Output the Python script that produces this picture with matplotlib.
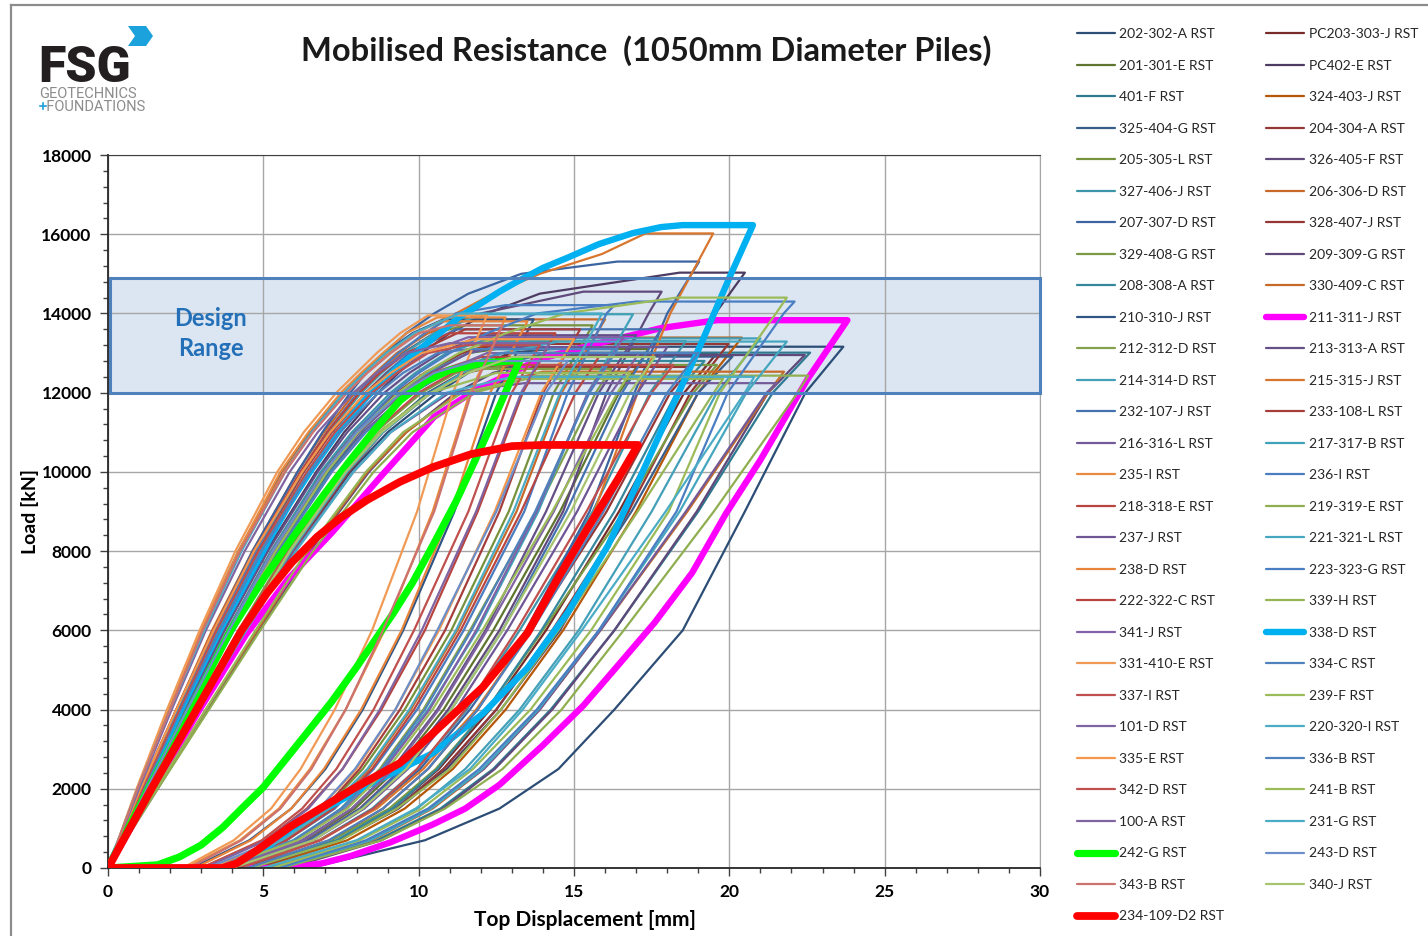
import matplotlib.pyplot as plt
from matplotlib.lines import Line2D
from matplotlib.patches import Rectangle, Polygon
from matplotlib.ticker import MultipleLocator

plt.rcParams['font.family'] = ['Lato', 'DejaVu Sans']

# ---- series names / colours, as listed in the two legend columns ----
LEFT_NAMES = ['202-302-A', '201-301-E', '401-F', '325-404-G', '205-305-L', '327-406-J',
              '207-307-D', '329-408-G', '208-308-A', '210-310-J', '212-312-D', '214-314-D',
              '232-107-J', '216-316-L', '235-I', '218-318-E', '237-J', '238-D', '222-322-C',
              '341-J', '331-410-E', '337-I', '101-D', '335-E', '342-D', '100-A', '242-G',
              '343-B', '234-109-D2']
LEFT_COLORS = ['#2C4D75', '#5F7530', '#2F7A90', '#3A5E8C', '#76923C', '#3D95AB',
               '#3B64A0', '#7A9A45', '#34879C', '#2F5587', '#83A24B', '#43A0B8',
               '#4472B0', '#735A98', '#E88A3F', '#B8443F', '#6E5696', '#E8843A', '#B84541',
               '#7F62A8', '#F09A55', '#C0504D', '#8064A2', '#F4974A', '#C0504D', '#8064A2',
               '#00FF00', '#CC7370', '#FF0000']
RIGHT_NAMES = ['PC203-303-J', 'PC402-E', '324-403-J', '204-304-A', '326-405-F', '206-306-D',
               '328-407-J', '209-309-G', '330-409-C', '211-311-J', '213-313-A', '215-315-J',
               '233-108-L', '217-317-B', '236-I', '219-319-E', '221-321-L', '223-323-G',
               '339-H', '338-D', '334-C', '239-F', '220-320-I', '336-B', '241-B', '231-G',
               '243-D', '340-J']
RIGHT_COLORS = ['#772C2A', '#4D3B62', '#B65708', '#953735', '#604A7B', '#C8692A',
                '#963634', '#5F497A', '#C66A28', '#FF00FF', '#644F86', '#D9762E',
                '#A53E3B', '#3FA2B8', '#4A7CC0', '#8FAE50', '#45A7BF', '#4A7EC2',
                '#95B556', '#00B0F0', '#4F81BD', '#9BBB59', '#4BACC6', '#4F81BD', '#9BBB59',
                '#4BACC6', '#6D8FC9', '#A7C46F']

# ---- ordinary piles: displacement (mm) read at fixed load steps (kN) ----
UP_LOADS = [2000, 4000, 6000, 8000, 10000, 11000, 12000, 12500, 13000, 13500, 14000,
            14500, 15000, 15500]
DOWN_LOADS = [14000, 12000, 9000, 6000, 4000, 2500, 1500, 700, 0]

THIN_NAMES = ['202-302-A', '201-301-E', '401-F', '325-404-G', '205-305-L', '327-406-J',
              '207-307-D', '329-408-G', '208-308-A', '210-310-J', '212-312-D', '214-314-D',
              '232-107-J', '216-316-L', '235-I', '218-318-E', '237-J', '238-D', '222-322-C',
              '341-J', '331-410-E', '337-I', '101-D', '335-E', '342-D', '100-A', '343-B',
              'PC203-303-J', 'PC402-E', '324-403-J', '204-304-A', '326-405-F', '206-306-D',
              '328-407-J', '209-309-G', '330-409-C', '213-313-A', '215-315-J', '233-108-L',
              '217-317-B', '236-I', '219-319-E', '221-321-L', '223-323-G', '339-H', '334-C',
              '239-F', '220-320-I', '336-B', '241-B', '231-G', '243-D', '340-J']
PEAK = [13160, 13100, 13010, 12910, 13700, 13300, 15310, 12700, 12800, 13850, 12600, 13370,
        13600, 12240, 13900, 13500, 13150, 13800, 12900, 13400, 13950, 13200, 13000, 13350,
        12700, 13250, 13700,
        13000, 15030, 13390, 13230, 14550, 13850, 12650, 12950, 12530, 13450, 16020, 13600,
        13980, 14210, 12430, 13290, 14300, 12350, 13100, 14400, 12400, 13000, 12500, 14000,
        12800, 12900]
X_PEAK_START = [15.0, 12.5, 14.2, 13.2, 11.5, 12.0, 16.4, 13.0, 12.8, 10.8, 11.8, 13.8,
                11.2, 13.4, 10.6, 11.0, 12.5, 10.7, 12.0, 11.6, 10.3, 11.5, 12.2, 11.8,
                12.0, 11.0, 11.0,
                13.0, 18.4, 13.0, 12.6, 15.3, 11.5, 12.4, 14.6, 14.0, 12.0, 17.3, 11.5,
                12.0, 12.8, 13.8, 14.5, 17.0, 13.5, 11.6, 18.3, 13.0, 12.6, 12.5, 11.3,
                11.8, 13.0]
X_PEAK_END = [23.67, 17.4, 22.6, 20.1, 15.6, 18.6, 19.03, 19.6, 19.2, 13.7, 16.2, 21.0,
              17.8, 21.52, 12.8, 14.4, 18.0, 13.5, 15.8, 16.6, 12.2, 13.9, 17.1, 15.0,
              18.2, 14.2, 12.7,
              19.6, 20.5, 20.4, 19.97, 17.82, 16.0, 18.8, 22.43, 21.76, 17.0, 19.48, 15.2,
              16.9, 16.3, 22.54, 21.85, 22.1, 19.8, 16.4, 21.85, 20.8, 19.0, 16.8, 15.9,
              14.8, 17.6]
UP_DISP = [
    [1.4, 2.85, 4.35, 5.95, 7.8, 9.0, 10.6, 11.6, 12.9],
    [1.25, 2.55, 3.9, 5.3, 6.95, 8.0, 9.4, 10.3, 11.6],
    [1.4, 2.8, 4.3, 5.85, 7.6, 8.8, 10.3, 11.5],
    [1.25, 2.6, 3.95, 5.4, 7.1, 8.2, 9.7, 10.8],
    [1.1, 2.25, 3.45, 4.75, 6.25, 7.1, 8.15, 8.8, 9.5, 10.5],
    [1.2, 2.5, 3.85, 5.25, 6.85, 7.85, 9.1, 9.9, 10.9],
    [1.1, 2.2, 3.4, 4.65, 6.1, 6.9, 7.8, 8.3, 8.9, 9.6, 10.5, 11.6, 13.3],
    [1.35, 2.75, 4.2, 5.75, 7.5, 8.6, 10.1, 11.2],
    [1.3, 2.6, 4.0, 5.45, 7.15, 8.25, 9.8, 10.9],
    [0.95, 1.95, 3.0, 4.2, 5.6, 6.5, 7.6, 8.2, 8.9, 9.8],
    [1.3, 2.6, 3.95, 5.35, 7.0, 8.05, 9.5, 10.6],
    [1.25, 2.55, 3.9, 5.3, 6.95, 8.0, 9.35, 10.3, 11.6],
    [1.1, 2.3, 3.5, 4.8, 6.3, 7.2, 8.3, 8.95, 9.7],
    [1.45, 2.9, 4.4, 6.0, 7.9, 9.1, 11.0],
    [0.95, 1.95, 3.0, 4.2, 5.55, 6.45, 7.5, 8.15, 8.85, 9.6],
    [1.05, 2.2, 3.4, 4.7, 6.2, 7.05, 8.1, 8.75, 9.6],
    [1.3, 2.6, 3.95, 5.4, 7.05, 8.1, 9.5, 10.4, 11.6],
    [0.95, 2.0, 3.05, 4.25, 5.65, 6.55, 7.65, 8.3, 9.0, 9.9],
    [1.25, 2.55, 3.9, 5.3, 6.95, 8.0, 9.45, 10.45],
    [1.15, 2.35, 3.6, 4.95, 6.5, 7.4, 8.55, 9.3, 10.2],
    [0.92, 1.9, 2.95, 4.1, 5.45, 6.3, 7.35, 8.0, 8.65, 9.4],
    [1.1, 2.3, 3.5, 4.85, 6.4, 7.3, 8.5, 9.3, 10.3],
    [1.3, 2.65, 4.05, 5.5, 7.2, 8.25, 9.7, 10.7],
    [1.05, 2.2, 3.4, 4.7, 6.25, 7.15, 8.3, 9.1, 10.1],
    [1.4, 2.8, 4.25, 5.8, 7.5, 8.55, 10.0, 11.1],
    [1.0, 2.05, 3.15, 4.4, 5.85, 6.75, 7.9, 8.65, 9.6],
    [0.95, 2.0, 3.05, 4.25, 5.7, 6.6, 7.7, 8.35, 9.1, 10.0],
    [1.4, 2.85, 4.35, 5.9, 7.7, 8.8, 10.3, 11.4],
    [1.2, 2.45, 3.75, 5.1, 6.7, 7.6, 8.7, 9.35, 10.1, 11.0, 12.2, 13.9],
    [1.25, 2.55, 3.9, 5.3, 6.95, 7.95, 9.3, 10.2, 11.4],
    [1.2, 2.5, 3.85, 5.25, 6.9, 7.95, 9.3, 10.2, 11.4],
    [1.1, 2.25, 3.45, 4.75, 6.2, 7.05, 8.05, 8.7, 9.5, 10.5, 12.0],
    [1.05, 2.2, 3.35, 4.65, 6.1, 6.95, 7.95, 8.6, 9.3, 10.3],
    [1.45, 2.9, 4.4, 5.95, 7.75, 8.85, 10.4, 11.5],
    [1.6, 3.2, 4.85, 6.5, 8.4, 9.6, 11.2, 12.4],
    [1.55, 3.15, 4.8, 6.45, 8.35, 9.6, 11.3],
    [1.2, 2.45, 3.75, 5.15, 6.75, 7.7, 8.9, 9.7, 10.7],
    [1.1, 2.25, 3.4, 4.7, 6.25, 7.1, 8.1, 8.7, 9.4, 10.2, 11.2, 12.4, 13.9, 15.9],
    [1.1, 2.3, 3.5, 4.8, 6.3, 7.2, 8.3, 9.0, 9.9],
    [1.1, 2.25, 3.45, 4.75, 6.25, 7.1, 8.15, 8.8, 9.55, 10.5],
    [1.1, 2.25, 3.45, 4.75, 6.2, 7.05, 8.05, 8.65, 9.35, 10.2, 11.2],
    [1.6, 3.25, 4.9, 6.6, 8.55, 9.8, 11.8],
    [1.4, 2.85, 4.35, 5.9, 7.7, 8.85, 10.4, 11.4, 12.7],
    [1.25, 2.55, 3.9, 5.3, 6.95, 7.95, 9.2, 10.0, 11.0, 12.2, 13.8],
    [1.55, 3.15, 4.75, 6.4, 8.3, 9.5, 11.4],
    [1.15, 2.35, 3.6, 4.95, 6.5, 7.45, 8.7, 9.5, 10.6],
    [1.3, 2.6, 3.95, 5.4, 7.05, 8.05, 9.35, 10.2, 11.3, 12.8, 14.7],
    [1.45, 2.9, 4.45, 6.05, 7.9, 9.1, 10.9],
    [1.3, 2.65, 4.05, 5.5, 7.2, 8.3, 9.8, 10.9],
    [1.4, 2.8, 4.3, 5.85, 7.6, 8.7, 10.4],
    [0.95, 2.0, 3.1, 4.3, 5.7, 6.55, 7.6, 8.25, 8.95, 9.85],
    [1.25, 2.55, 3.9, 5.3, 6.95, 8.0, 9.45, 10.5],
    [1.4, 2.8, 4.3, 5.85, 7.65, 8.8, 10.4, 11.6],
]
DOWN_DISP = [
    [22.45, 20.5, 18.5, 16.3, 14.5, 12.6, 10.2, 6.5],
    [16.45, 14.55, 12.4, 10.8, 9.3, 7.95, 6.35, 3.9],
    [21.4, 19.0, 16.3, 14.25, 12.4, 10.7, 8.65, 5.6],
    [19.0, 16.85, 14.35, 12.5, 10.8, 9.25, 7.4, 4.6],
    [14.35, 12.9, 11.05, 9.55, 8.2, 7.0, 5.5, 3.3],
    [17.45, 15.6, 13.25, 11.55, 9.95, 8.5, 6.8, 4.2],
    [18.0, 16.95, 15.5, 13.45, 11.65, 10.05, 8.55, 6.8, 4.3],
    [18.85, 16.6, 14.0, 12.2, 10.55, 9.05, 7.2, 4.5],
    [18.3, 16.3, 13.95, 12.2, 10.6, 9.15, 7.35, 4.6],
    [12.5, 11.15, 9.5, 8.2, 7.0, 5.9, 4.55, 2.7],
    [15.7, 13.8, 11.65, 10.15, 8.75, 7.5, 6.0, 3.6],
    [19.6, 17.5, 15.15, 13.25, 11.5, 9.95, 8.05, 5.2],
    [16.55, 14.75, 12.7, 11.05, 9.5, 8.15, 6.5, 4.0],
    [21.2, 18.6, 15.85, 13.9, 12.1, 10.35, 8.4, 5.3],
    [11.65, 10.45, 8.9, 7.65, 6.5, 5.5, 4.25, 2.5],
    [13.35, 11.9, 10.2, 8.8, 7.55, 6.4, 5.05, 3.0],
    [17.05, 15.1, 12.85, 11.2, 9.65, 8.25, 6.6, 4.1],
    [12.3, 11.05, 9.45, 8.15, 6.95, 5.9, 4.6, 2.8],
    [15.05, 13.3, 11.35, 9.85, 8.5, 7.25, 5.75, 3.4],
    [15.45, 13.8, 11.85, 10.35, 8.9, 7.65, 6.1, 3.8],
    [11.1, 9.95, 8.5, 7.3, 6.2, 5.25, 4.05, 2.4],
    [13.0, 11.6, 9.85, 8.55, 7.35, 6.25, 4.95, 3.0],
    [16.2, 14.35, 12.2, 10.65, 9.2, 7.85, 6.3, 3.9],
    [13.95, 12.45, 10.65, 9.25, 8.0, 6.8, 5.4, 3.3],
    [17.5, 15.4, 13.15, 11.5, 9.95, 8.55, 6.85, 4.2],
    [13.3, 11.85, 10.1, 8.75, 7.55, 6.45, 5.1, 3.1],
    [11.7, 10.5, 8.85, 7.65, 6.55, 5.55, 4.3, 2.6],
    [18.55, 16.45, 14.1, 12.3, 10.65, 9.15, 7.4, 4.7],
    [19.55, 18.3, 16.75, 14.55, 12.65, 10.9, 9.35, 7.45, 4.8],
    [19.0, 17.0, 14.65, 12.8, 11.1, 9.55, 7.7, 4.9],
    [18.75, 16.75, 14.3, 12.5, 10.8, 9.3, 7.45, 4.7],
    [17.4, 16.05, 14.65, 12.6, 10.95, 9.45, 8.1, 6.45, 4.1],
    [14.6, 13.15, 11.25, 9.75, 8.4, 7.15, 5.65, 3.5],
    [18.1, 16.05, 13.6, 11.9, 10.3, 8.85, 7.15, 4.4],
    [21.25, 18.95, 16.3, 14.3, 12.45, 10.8, 8.8, 5.8],
    [21.25, 18.65, 15.85, 13.9, 12.1, 10.45, 8.5, 5.4],
    [15.8, 14.1, 12.15, 10.6, 9.15, 7.85, 6.25, 3.9],
    [18.1, 17.05, 15.65, 13.65, 11.85, 10.15, 8.65, 6.8, 4.2],
    [14.0, 12.6, 10.85, 9.4, 8.1, 6.95, 5.5, 3.4],
    [15.45, 13.85, 11.9, 10.3, 8.85, 7.55, 5.95, 3.7],
    [16.05, 14.8, 13.4, 11.45, 9.95, 8.55, 7.3, 5.75, 3.6],
    [22.2, 19.5, 16.6, 14.6, 12.7, 10.85, 8.8, 5.6],
    [20.55, 18.4, 15.8, 13.85, 12.05, 10.4, 8.45, 5.5],
    [21.75, 19.95, 18.3, 15.8, 13.8, 11.95, 10.3, 8.3, 5.5],
    [19.5, 17.05, 14.5, 12.65, 11.0, 9.3, 7.5, 4.6],
    [15.5, 13.75, 11.7, 10.2, 8.8, 7.5, 6.0, 3.7],
    [21.5, 19.7, 18.05, 15.55, 13.6, 11.75, 10.1, 8.1, 5.3],
    [20.5, 17.95, 15.25, 13.35, 11.65, 9.9, 8.0, 5.0],
    [18.0, 15.95, 13.65, 11.9, 10.3, 8.85, 7.1, 4.5],
    [16.4, 14.3, 12.05, 10.45, 9.0, 7.7, 6.1, 3.6],
    [14.55, 13.05, 11.2, 9.7, 8.35, 7.1, 5.6, 3.5],
    [14.1, 12.5, 10.6, 9.25, 7.95, 6.8, 5.4, 3.2],
    [16.8, 14.9, 12.7, 11.05, 9.6, 8.2, 6.6, 4.0],
]

# ---- highlighted piles, full load-displacement loops ----
GREEN_X = [0, 1.3, 2.64, 3.95, 5.05, 6.18, 7.0, 7.8, 8.6, 9.4, 10.2, 11.0, 12.0, 13.26,
           12.9, 12.4, 11.87, 11.2, 10.46, 9.8, 9.2, 8.0, 7.2, 6.4, 5.0, 4.3, 3.7, 3.0, 2.3,
           1.6, 0]
GREEN_Y = [0, 2000, 4000, 6000, 7350, 8600, 9480, 10300, 11080, 11800, 12280, 12570, 12740,
           12820, 12200, 11300, 10380, 9250, 8150, 7200, 6450, 5070, 4200, 3410, 2040, 1500,
           1030, 580, 280, 80, 0]
RED_X = [0, 1.4, 2.85, 4.3, 5.12, 5.9, 6.73, 7.5, 8.34, 9.4, 10.46, 11.7, 13.0, 14.0, 17.06,
         16.4, 15.4, 14.45, 13.5, 12.07, 10.46, 9.4, 8.0, 5.86, 4.8, 4.15, 3.7, 0]
RED_Y = [0, 2000, 4000, 6000, 6940, 7700, 8360, 8850, 9290, 9750, 10120, 10450, 10650, 10680,
         10680, 9800, 8530, 7270, 5930, 4570, 3400, 2650, 2050, 1040, 450, 120, 0, 0]
CYAN_X = [0, 1.15, 2.35, 3.6, 4.3, 5.2, 5.85, 6.5, 7.4, 8.34, 9.2, 10.04, 11.3, 12.6, 13.16,
          14.0, 14.77, 15.8, 16.9, 17.8, 18.5, 20.76, 20.0, 19.1, 18.25, 17.15, 16.1, 14.8,
          13.5, 12.07, 10.46, 8.53, 7.0, 5.7, 4.7, 4.0, 0]
CYAN_Y = [0, 2000, 4000, 6000, 7000, 8300, 9200, 10000, 11000, 11900, 12550, 13100, 13900,
          14550, 14800, 15150, 15400, 15750, 16030, 16180, 16230, 16230, 14900, 13250, 11800,
          9900, 8150, 6450, 5050, 3900, 2900, 2150, 1500, 850, 300, 0, 0]
MAGENTA_X = [0, 1.45, 2.95, 4.45, 5.8, 7.2, 8.8, 10.5, 11.8, 13.0, 13.9, 15.8, 17.8, 19.6,
             23.8, 22.5, 21.0, 19.9, 18.8, 17.6, 16.4, 15.3, 14.0, 12.6, 11.5, 10.46, 9.1, 7.8,
             6.9, 5.86, 0]
MAGENTA_Y = [0, 2000, 4000, 5900, 7300, 8460, 9900, 11390, 12050, 12500, 12850, 13250, 13630,
             13830, 13830, 12320, 10300, 8960, 7450, 6200, 5100, 4100, 3100, 2100, 1500, 1100,
             650, 300, 120, 0, 0]

DESIGN_LOW, DESIGN_HIGH = 12000, 14900

W, H = 1428, 936
fig = plt.figure(figsize=(W / 100, H / 100), dpi=100)
ax = fig.add_axes([108 / W, 1 - 868 / H, (1040 - 108) / W, (868 - 155) / H])

colors = dict(zip(LEFT_NAMES + RIGHT_NAMES, LEFT_COLORS + RIGHT_COLORS))
thin_idx = {n: i for i, n in enumerate(THIN_NAMES)}
bold = {'242-G': (GREEN_X, GREEN_Y, 5.2), '234-109-D2': (RED_X, RED_Y, 5.6),
        '338-D': (CYAN_X, CYAN_Y, 4.6), '211-311-J': (MAGENTA_X, MAGENTA_Y, 4.6)}

# series are plotted row by row across the legend
order = []
for i, name in enumerate(LEFT_NAMES):
    order.append(name)
    if i < len(RIGHT_NAMES):
        order.append(RIGHT_NAMES[i])

lines = {}
for k, name in enumerate(order):
    if name in bold:
        xs, ys, lw = bold[name]
    else:
        i = thin_idx[name]
        up, down = UP_DISP[i], DOWN_DISP[i]
        xs = [0] + up + [X_PEAK_START[i], X_PEAK_END[i]] + down + [0]
        ys = [0] + UP_LOADS[:len(up)] + [PEAK[i], PEAK[i]] + DOWN_LOADS[-len(down):] + [0]
        lw = 1.6
    ln, = ax.plot(xs, ys, color=colors[name], lw=lw, zorder=2 + k * 0.01,
                  solid_joinstyle='round', solid_capstyle='round')
    lines[name] = ln

# design range band
ax.add_patch(Rectangle((0.06, DESIGN_LOW), 29.94, DESIGN_HIGH - DESIGN_LOW,
                       facecolor='#DCE6F2', edgecolor='none', zorder=0.2))
ax.add_patch(Rectangle((0.06, DESIGN_LOW), 29.94, DESIGN_HIGH - DESIGN_LOW,
                       facecolor='none', edgecolor='#4F81BD', lw=2.2, zorder=3, clip_on=False))
ax.text(3.3, 13500, 'Design\nRange', ha='center', va='center', color='#2370B8',
        fontsize=17, fontweight='bold', linespacing=1.35, zorder=4)

ax.set_xlim(0, 30)
ax.set_ylim(0, 18000)
ax.xaxis.set_major_locator(MultipleLocator(5))
ax.xaxis.set_minor_locator(MultipleLocator(1))
ax.yaxis.set_major_locator(MultipleLocator(2000))
ax.yaxis.set_minor_locator(MultipleLocator(400))
ax.set_axisbelow(True)
ax.grid(True, which='major', color='#A6A6A6', lw=1.0)
for side in ['left', 'bottom']:
    ax.spines[side].set_color('#262626')
    ax.spines[side].set_linewidth(1.3)
ax.spines['top'].set_color('#404040')
ax.spines['right'].set_color('#A6A6A6')
ax.tick_params(which='major', direction='out', length=5.8, width=1.0, color='#404040',
               labelsize=12.5, pad=6)
ax.tick_params(which='minor', direction='out', length=3.8, width=1.0, color='#404040')
for lbl in ax.get_xticklabels() + ax.get_yticklabels():
    lbl.set_fontweight('bold')

fig.text(30 / W, 1 - 511 / H, 'Load [kN]', rotation=90, ha='center', va='center',
         fontsize=14, fontweight='bold')
fig.text(585 / W, 1 - 920 / H, 'Top Displacement [mm]', ha='center', va='center',
         fontsize=15, fontweight='bold')
fig.text(646 / W, 1 - 61 / H, 'Mobilised Resistance  (1050mm Diameter Piles)',
         ha='center', va='baseline', fontsize=23.5, fontweight='bold', color='#1A1A1A')

# logo
fig.text(38 / W, 1 - 82 / H, 'FSG', fontsize=36, fontweight='heavy', family='Roboto',
         color='#231F20', va='baseline')
chevron = [(128, 26), (146, 26), (153, 36), (146, 46), (128, 46), (135, 36)]
fig.add_artist(Polygon([(x / W, 1 - y / H) for x, y in chevron], closed=True,
                       facecolor='#1BA1DB', edgecolor='none', transform=fig.transFigure))
fig.text(39 / W, 1 - 111 / H, 'GEOTECHNICS\n  FOUNDATIONS', fontsize=10.5, family='Roboto',
         color='#8C8C8C', va='baseline', linespacing=0.95)
# the small blue plus in front of FOUNDATIONS
fig.add_artist(Line2D([40 / W, 46 / W], [1 - 106 / H, 1 - 106 / H], color='#1BA1DB', lw=1.2,
                      transform=fig.transFigure))
fig.add_artist(Line2D([43 / W, 43 / W], [1 - 103 / H, 1 - 109 / H], color='#1BA1DB', lw=1.2,
                      transform=fig.transFigure))

# chart border
fig.add_artist(Line2D([11 / W, 11 / W], [0, 1 - 5 / H], color='#8C8C8C', lw=1.6,
                      transform=fig.transFigure))
fig.add_artist(Line2D([11 / W, 1], [1 - 5 / H, 1 - 5 / H], color='#8C8C8C', lw=1.6,
                      transform=fig.transFigure))

handles = [lines[n] for n in LEFT_NAMES + RIGHT_NAMES]
labels = [n + ' RST' for n in LEFT_NAMES + RIGHT_NAMES]
fig.legend(handles, labels, ncol=2, loc='upper left', bbox_to_anchor=(1077 / W, 1 - 28 / H),
           frameon=False, fontsize=10, handlelength=2.75, handletextpad=0.3,
           columnspacing=3.0, labelspacing=1.405, borderpad=0, borderaxespad=0,
           labelcolor='#262626')

fig.savefig('out.png', dpi=100)
